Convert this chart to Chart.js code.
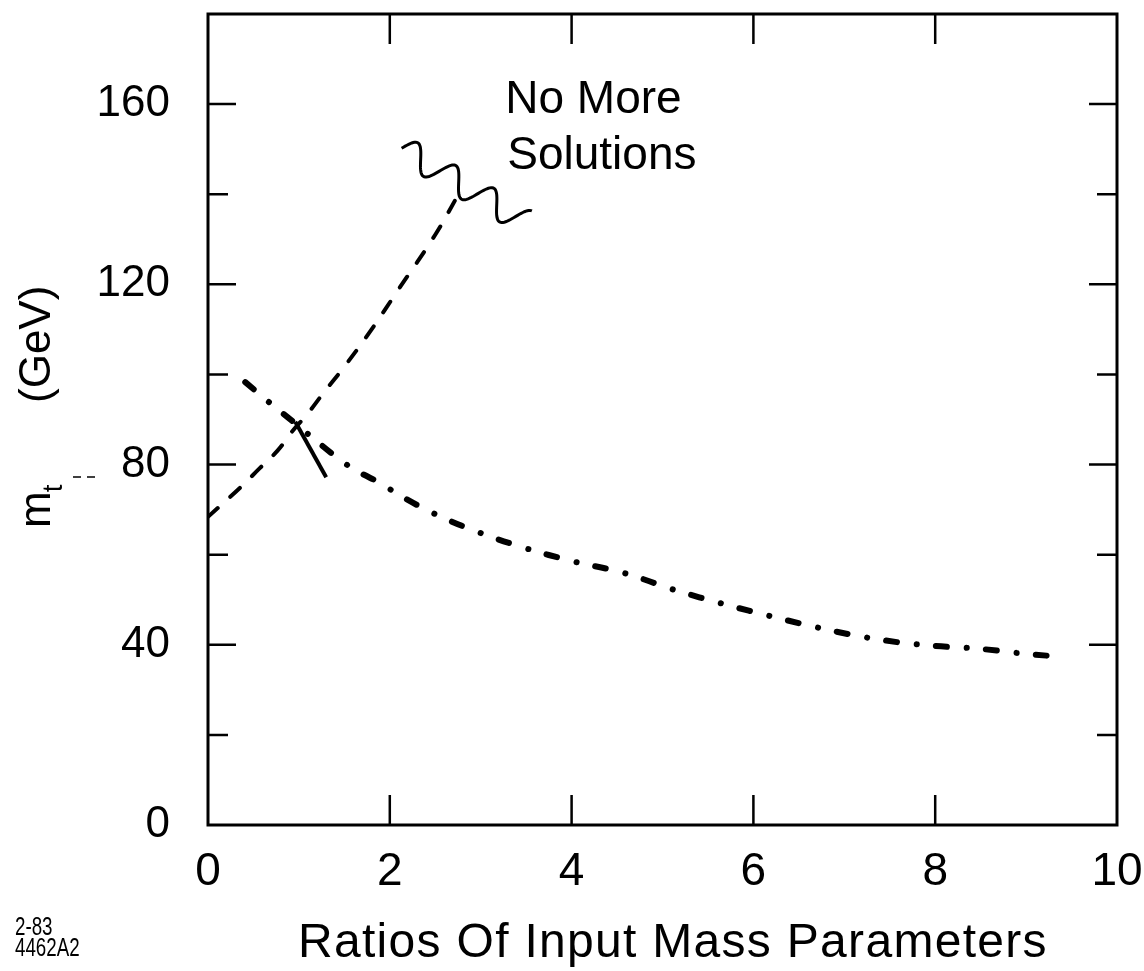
<!DOCTYPE html>
<html>
<head>
<meta charset="utf-8">
<title>m_t vs ratios of input mass parameters</title>
<script src="https://cdn.jsdelivr.net/npm/chart.js@4.4.1/dist/chart.umd.min.js"></script>
<style>
    html, body { margin: 0; padding: 0; background: #fff; }
    #wrap { position: relative; width: 1144px; height: 971px; }
</style>
</head>
<body>
<div id="wrap"><canvas id="chart"></canvas></div>
<script>
// dashed curve (rises to the "no more solutions" limit)
const dashedX = [0, 0.35, 0.57, 0.77, 0.92, 1.10, 1.27, 1.51, 1.80, 2.10, 2.50, 2.77];
const dashedY = [68.4, 74.8, 79.2, 83.2, 87.2, 91.4, 95.9, 102, 110, 119, 131, 140.5];

// dash-dot curve (falling)
const dashDotX = [0.41, 0.68, 0.98, 1.14, 1.43, 1.62, 1.93, 2.08, 2.5, 3.0, 3.5, 4.0, 4.58, 5.13, 5.68, 6.22, 6.78, 7.34, 7.90, 8.49, 9.04, 9.43];
const dashDotY = [98.3, 93.7, 88.8, 86.1, 81.4, 78.8, 75.5, 73.5, 69.0, 64.8, 61.4, 58.6, 55.9, 52.2, 49.0, 46.2, 43.5, 41.3, 39.9, 39.1, 37.9, 37.3];

// short solid stroke across the crossing point
const crossX = [0.96, 1.30];
const crossY = [89.5, 77.2];

const xTickValues = [0, 2, 4, 6, 8, 10];
const yTickValues = [0, 20, 40, 60, 80, 100, 120, 140, 160, 180];
const yLabelValues = [0, 40, 80, 120, 160];

const noteLines = ['No More', 'Solutions'];
const noteAt = [3.27, 158];
const squiggleFrom = [2.13, 150.2];
const squiggleTo = [3.49, 133.8];

const xTitle = 'Ratios Of Input Mass Parameters';
const stampLines = ['2-83', '4462A2'];

const FONT = "'Liberation Sans', Arial, sans-serif";

function toPoints(xs, ys) {
    return xs.map((x, i) => ({ x: x, y: ys[i] }));
}

// frame, inward ticks, labels and the squiggle
const decorations = {
    id: 'decorations',
    afterDraw(chart) {
        const ctx = chart.ctx;
        const a = chart.chartArea;
        const xs = chart.scales.x;
        const ys = chart.scales.y;
        ctx.save();
        ctx.strokeStyle = '#000';
        ctx.fillStyle = '#000';

        // frame
        ctx.lineWidth = 3;
        ctx.strokeRect(a.left, a.top, a.right - a.left, a.bottom - a.top);

        // inward ticks
        ctx.lineWidth = 2.5;
        ctx.beginPath();
        yTickValues.forEach(v => {
            if (v === 0 || v === 180) return;
            const y = ys.getPixelForValue(v);
            const len = yLabelValues.includes(v) ? 28 : 20;
            ctx.moveTo(a.left, y); ctx.lineTo(a.left + len, y);
            ctx.moveTo(a.right, y); ctx.lineTo(a.right - len, y);
        });
        xTickValues.forEach(v => {
            if (v === 0 || v === 10) return;
            const x = xs.getPixelForValue(v);
            ctx.moveTo(x, a.bottom); ctx.lineTo(x, a.bottom - 30);
            ctx.moveTo(x, a.top); ctx.lineTo(x, a.top + 30);
        });
        ctx.stroke();

        // squiggle ("no more solutions" boundary)
        const x0 = xs.getPixelForValue(squiggleFrom[0]), y0 = ys.getPixelForValue(squiggleFrom[1]);
        const x1 = xs.getPixelForValue(squiggleTo[0]), y1 = ys.getPixelForValue(squiggleTo[1]);
        const len = Math.hypot(x1 - x0, y1 - y0);
        const ux = (x1 - x0) / len, uy = (y1 - y0) / len;
        ctx.lineWidth = 3;
        ctx.beginPath();
        for (let s = 0; s <= len; s += 1) {
            const off = -13 * Math.sin(s / len * Math.PI * 2 * 3.25);
            const px = x0 + ux * s - uy * off;
            const py = y0 + uy * s + ux * off;
            if (s === 0) ctx.moveTo(px, py); else ctx.lineTo(px, py);
        }
        ctx.stroke();

        // note
        ctx.font = '46px ' + FONT;
        ctx.textAlign = 'left';
        ctx.textBaseline = 'alphabetic';
        const nx = xs.getPixelForValue(noteAt[0]);
        const ny = ys.getPixelForValue(noteAt[1]);
        ctx.fillText(noteLines[0], nx, ny);
        ctx.fillText(noteLines[1], nx + 2, ny + 56);

        // x title
        ctx.font = '48px ' + FONT;
        ctx.letterSpacing = '1.3px';
        ctx.fillText(xTitle, 298, 957);
        ctx.letterSpacing = '0px';

        // y title: m_t (GeV), rotated
        ctx.save();
        ctx.translate(50, 528);
        ctx.rotate(-Math.PI / 2);
        ctx.font = '44px ' + FONT;
        ctx.fillText('m', 0, 0);
        const mw = ctx.measureText('m').width;
        ctx.font = '28px ' + FONT;
        ctx.fillText('t', mw - 1, 12);
        ctx.font = '44px ' + FONT;
        ctx.fillText('(GeV)', 125, 0);
        ctx.restore();

        // little leader dashes between m_t and 80
        ctx.lineWidth = 1.5;
        ctx.setLineDash([8, 6]);
        ctx.beginPath();
        ctx.moveTo(73, 477); ctx.lineTo(101, 477);
        ctx.stroke();
        ctx.setLineDash([]);

        // figure stamp
        ctx.save();
        ctx.font = '25px ' + FONT;
        ctx.scale(0.75, 1);
        ctx.fillText(stampLines[0], 15 / 0.75, 935);
        ctx.fillText(stampLines[1], 15 / 0.75, 956);
        ctx.restore();

        ctx.restore();
    }
};

const ctx = document.getElementById('chart').getContext('2d');
const chart = new Chart(ctx, {
    type: 'scatter',
    data: {
        datasets: [
            {
                label: 'dashed',
                data: toPoints(dashedX, dashedY),
                showLine: true,
                borderColor: '#000',
                borderWidth: 4,
                borderDash: [13, 17],
                borderCapStyle: 'round',
                pointRadius: 0,
                tension: 0.4
            },
            {
                label: 'dash-dot',
                data: toPoints(dashDotX, dashDotY),
                showLine: true,
                borderColor: '#000',
                borderWidth: 6,
                borderDash: [11, 20, 0.1, 19],
                borderCapStyle: 'round',
                pointRadius: 0,
                tension: 0.4
            },
            {
                label: 'cross',
                data: toPoints(crossX, crossY),
                showLine: true,
                borderColor: '#000',
                borderWidth: 4,
                pointRadius: 0
            }
        ]
    },
    options: {
        responsive: true,
        maintainAspectRatio: false,
        animation: false,
        layout: { padding: { left: 0, right: 27, top: 14, bottom: 0 } },
        plugins: {
            legend: { display: false },
            tooltip: { enabled: false }
        },
        scales: {
            x: {
                type: 'linear',
                min: 0,
                max: 10,
                afterBuildTicks: s => { s.ticks = xTickValues.map(v => ({ value: v })); },
                afterFit: s => { s.height = 146; s.paddingLeft = 0; s.paddingRight = 0; },
                grid: { display: false },
                border: { display: false },
                ticks: {
                    color: '#000',
                    font: { family: FONT, size: 46 },
                    padding: 12,
                    maxRotation: 0,
                    callback: v => String(v)
                }
            },
            y: {
                type: 'linear',
                min: 0,
                max: 180,
                afterBuildTicks: s => { s.ticks = yTickValues.map(v => ({ value: v })); },
                afterFit: s => { s.width = 208; s.paddingTop = 0; s.paddingBottom = 0; },
                grid: { display: false },
                border: { display: false },
                ticks: {
                    color: '#000',
                    font: { family: FONT, size: 44 },
                    padding: 30,
                    callback: v => yLabelValues.includes(v) ? String(v) : ''
                }
            }
        }
    },
    plugins: [decorations]
});
</script>
</body>
</html>
